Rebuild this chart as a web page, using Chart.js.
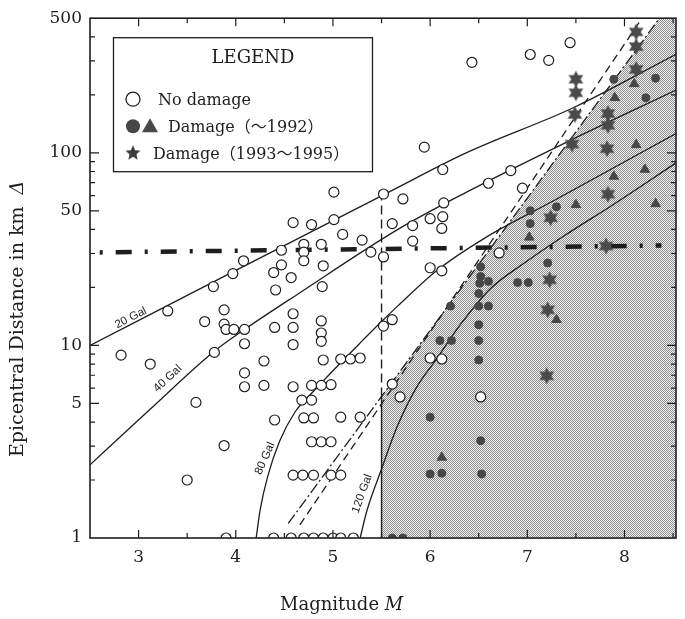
<!DOCTYPE html>
<html><head><meta charset="utf-8">
<script src="https://cdn.jsdelivr.net/npm/chart.js@4.4.1/dist/chart.umd.min.js"></script>
<style>html,body{margin:0;padding:0;background:#fff}#wrap{position:relative;width:685px;height:619px}</style>
</head><body><div id="wrap"><canvas id="c" width="685" height="619"></canvas></div>
<script>
// ---------------- DATA ----------------
const magnitudeTicks = [3, 4, 5, 6, 7, 8];
const distanceTicks = [1, 5, 10, 50, 100, 500];

// [Magnitude M, epicentral distance km]
const noDamage = [
 [2.82,8.9],[3.12,8.0],[3.30,15.1],[3.68,13.3],[3.88,15.3],[3.88,12.9],[3.90,12.1],[3.98,12.1],
 [3.78,9.2],[3.59,5.06],[3.88,3.02],[3.50,2.0],[3.90,1],[3.77,20.2],[3.97,23.6],[4.08,27.5],
 [4.09,12.1],[4.09,10.2],[4.09,7.2],[4.09,6.1],[4.29,6.2],[4.29,8.3],[4.40,4.1],[4.40,12.4],
 [4.41,19.4],[4.47,31.2],[4.47,26.2],[4.39,23.9],[4.57,22.5],[4.59,14.6],[4.59,12.4],[4.59,10.1],
 [4.59,43.4],[4.78,42.4],[5.01,45.0],[5.01,62.5],[5.10,37.7],[5.30,35.2],[5.39,30.5],[5.52,61.1],
 [5.52,28.8],[4.70,33.5],[4.70,30.5],[4.70,27.5],[4.88,33.5],[4.90,25.9],[4.89,20.2],[4.88,13.4],
 [4.88,11.6],[4.88,10.5],[4.90,8.4],[5.08,8.5],[5.18,8.5],[5.28,8.6],[5.52,12.6],[5.61,13.6],
 [4.98,6.25],[4.59,6.1],[4.78,6.2],[4.88,6.2],[5.61,6.3],[4.68,5.2],[4.78,5.2],[4.70,4.2],
 [4.80,4.2],[5.08,4.24],[5.28,4.24],[4.78,3.16],[4.88,3.16],[4.98,3.16],[4.59,2.12],[4.69,2.12],
 [4.80,2.12],[4.98,2.12],[5.08,2.12],[4.39,1],[4.57,1],[4.70,1],[4.80,1],[4.90,1],[5.00,1],
 [5.08,1],[5.21,1],[5.69,5.4],[6.52,5.4],[6.00,8.6],[6.12,8.5],[6.00,25.3],[6.12,24.4],
 [5.82,34.8],[6.71,30.2],[5.72,57.6],[5.61,42.9],[5.82,41.9],[6.00,45.5],[6.13,46.6],[6.12,40.5],
 [6.14,54.9],[5.94,107],[6.13,81.9],[6.60,69.5],[6.83,80.9],[6.95,65.5],[6.43,295],[7.03,324],
 [7.22,302],[7.44,373]
];
const damageCircle = [
 [6.52,25.6],[6.52,22.8],[6.51,21.0],[6.60,21.5],[6.90,21.2],[7.01,21.2],[7.21,26.8],[6.21,16.0],
 [6.50,18.6],[6.50,16.0],[6.60,16.0],[6.50,12.8],[6.10,10.6],[6.22,10.6],[6.50,10.6],[6.50,8.4],
 [6.00,4.24],[6.52,3.2],[6.00,2.15],[6.12,2.17],[6.53,2.15],[5.61,1],[5.72,1],[7.03,50],
 [7.30,52.4],[7.03,42.9],[7.89,241],[8.22,193],[8.32,244]
];
const damageTriangle = [
 [6.12,2.62],[7.30,13.6],[7.02,36.4],[7.50,53.7],[8.32,54.3],[7.89,75.4],[8.21,81.9],[8.12,110],
 [7.90,193],[8.10,228]
];
const damageStar = [
 [8.12,424],[8.12,356],[8.12,271],[7.50,241],[7.50,205],[7.49,158],[7.83,160],[7.83,139],
 [7.46,111],[7.82,105],[7.83,61],[7.24,46],[7.81,32.8],[7.23,21.9],[7.21,15.3],[7.20,6.95]
];

// attenuation curves (Gal)
const gal20 = [[2.5,10.0],[3.93,23.5],[5.55,61.6],[6.37,99.9],[7.49,173],[8.53,325]];
const gal40 = [[2.5,2.40],[3.11,4.62],[3.77,9.25],[4.09,12.1],[4.64,18.5],[5.66,39.8],[6.37,62.3],[7.38,112],[8.53,212]];
const gal80 = [[4.21,1],[4.25,1.39],[4.33,2.10],[4.45,3.17],[4.61,4.51],[4.81,5.85],[5.01,7.48],[5.28,10.3],[5.50,13.3],[5.66,15.9],[6.06,24.3],[6.57,36.3],[7.28,56.7],[8.53,126]];
const gal120 = [[5.28,1],[5.35,1.39],[5.50,2.28],[5.66,3.78],[5.86,6.06],[6.06,8.42],[6.32,13.0],[6.62,19.7],[6.98,27.0],[7.38,37.1],[7.89,54.1],[8.53,88.7]];

// boundary lines
const limitDashDot = [[4.54,1.19],[8.36,500]];
const limitDashed = [[4.66,1.17],[8.18,500]];
const threshold = [[2.60,30.4],[8.38,33.0]];
const magnitudeLimit = 5.5;
const magnitudeLimitTop = 65;

// ---------------- HELPERS ----------------
function logInterp(line, m){
  const [a,b] = line;
  const t = (m-a[0])/(b[0]-a[0]);
  return Math.pow(10, Math.log10(a[1]) + t*(Math.log10(b[1])-Math.log10(a[1])));
}
const pts = arr => arr.map(([x,y]) => ({x, y}));
const xMin = 2.5, xMax = 8.53, yMin = 1, yMax = 500;
const limitAt55 = logInterp(limitDashDot, magnitudeLimit);
const shadeBoundary = [[magnitudeLimit, limitAt55], limitDashDot[1], [xMax, yMax]];

const canvas = document.getElementById('c');
const mainCtx = canvas.getContext('2d');
function makePattern(){
  const pc = document.createElement('canvas'); pc.width = 2; pc.height = 2;
  const g = pc.getContext('2d');
  g.fillStyle = '#f2f2f2'; g.fillRect(0,0,2,2);
  g.fillStyle = '#8e8e8e'; g.fillRect(0,0,1,1); g.fillRect(1,1,1,1);
  return mainCtx.createPattern(pc, 'repeat');
}
function makeStar(outer, inner, n, color){
  const s = Math.ceil(outer*2 + 2);
  const c = document.createElement('canvas'); c.width = s; c.height = s;
  const g = c.getContext('2d'); g.fillStyle = color; g.beginPath();
  for (let i = 0; i < 2*n; i++){
    const r = i % 2 ? inner : outer;
    const a = -Math.PI/2 + i*Math.PI/n;
    g.lineTo(s/2 + r*Math.cos(a), s/2 + r*Math.sin(a));
  }
  g.closePath(); g.fill(); return c;
}
const INK = '#1e1e1e', DARK = '#474747';
const starImg = makeStar(8.5, 4.6, 6, '#4a4a4a');
const legendStar = makeStar(8, 3.6, 5, '#3a3a3a');
const serif = '"DejaVu Serif", "Noto Sans CJK JP", serif';

function lineDs(arr, opts){
  return Object.assign({type:'line', data: pts(arr), borderColor: INK, borderWidth: 1.3,
    pointRadius: 0, fill: false, showLine: true, order: 3}, opts);
}

// ---------------- PLUGINS ----------------
const framePlugin = {
  id: 'frame',
  afterDatasetsDraw(chart){
    const {ctx, chartArea: a, scales: {x, y}} = chart;
    ctx.save();
    ctx.strokeStyle = INK; ctx.lineWidth = 1.2;
    ctx.beginPath();
    x.ticks.forEach(t => {
      const px = x.getPixelForValue(t.value);
      const L = Number.isInteger(t.value) ? 8 : 5;
      ctx.moveTo(px, a.bottom); ctx.lineTo(px, a.bottom - L);
      ctx.moveTo(px, a.top); ctx.lineTo(px, a.top + L);
    });
    y.ticks.forEach(t => {
      const py = y.getPixelForValue(t.value);
      if (py < a.top + 1 || py > a.bottom - 1) return;
      const L = distanceTicks.includes(t.value) ? 9 : 5;
      ctx.moveTo(a.left, py); ctx.lineTo(a.left + L, py);
      ctx.moveTo(a.right, py); ctx.lineTo(a.right - L, py);
    });
    ctx.stroke();
    ctx.lineWidth = 1.6;
    ctx.strokeRect(a.left, a.top, a.right - a.left, a.bottom - a.top);
    // curve labels
    const labels = [
      {t:'20 Gal', m:2.92, d:13.9, ang:-27},
      {t:'40 Gal', m:3.30, d:6.73, ang:-43},
      {t:'80 Gal', m:4.30, d:2.59, ang:-66},
      {t:'120 Gal', m:5.30, d:1.70, ang:-70}
    ];
    ctx.fillStyle = INK;
    ctx.font = '11.5px "Liberation Sans", Arial, sans-serif';
    ctx.textAlign = 'center'; ctx.textBaseline = 'middle';
    labels.forEach(l => {
      ctx.save();
      ctx.translate(x.getPixelForValue(l.m), y.getPixelForValue(l.d));
      ctx.rotate(l.ang*Math.PI/180);
      ctx.fillText(l.t, 0, 0);
      ctx.restore();
    });
    ctx.restore();
  },
  afterDraw(chart){
    const {ctx, chartArea: a} = chart;
    ctx.save();
    // legend box
    const bx = a.left + 23, by = a.top + 19, bw = 259, bh = 134;
    ctx.fillStyle = '#fff'; ctx.fillRect(bx, by, bw, bh);
    ctx.strokeStyle = INK; ctx.lineWidth = 1.3; ctx.strokeRect(bx + 0.5, by + 0.5, bw, bh);
    ctx.fillStyle = INK; ctx.textBaseline = 'alphabetic';
    ctx.font = '18px ' + serif; ctx.textAlign = 'center';
    ctx.fillText('LEGEND', bx + 140, by + 26);
    ctx.textAlign = 'left'; ctx.font = '16px ' + serif;
    // row 1
    ctx.beginPath(); ctx.arc(bx + 20, by + 62, 7, 0, 2*Math.PI);
    ctx.lineWidth = 1.3; ctx.stroke();
    ctx.fillText('No damage', bx + 45, by + 68);
    // row 2
    ctx.fillStyle = DARK;
    ctx.beginPath(); ctx.arc(bx + 20, by + 89, 7, 0, 2*Math.PI); ctx.fill();
    ctx.beginPath(); ctx.moveTo(bx + 37, by + 81); ctx.lineTo(bx + 45, by + 95); ctx.lineTo(bx + 29, by + 95); ctx.closePath(); ctx.fill();
    ctx.fillStyle = INK;
    ctx.fillText('Damage（～1992）', bx + 55, by + 95);
    // row 3
    ctx.drawImage(legendStar, bx + 20 - legendStar.width/2, by + 116 - legendStar.height/2);
    ctx.fillText('Damage（1993～1995）', bx + 40, by + 122);
    // axis titles
    ctx.font = '18px ' + serif;
    const x0 = 280, yb = 610;
    ctx.fillText('Magnitude ', x0, yb);
    const w1 = ctx.measureText('Magnitude ').width;
    ctx.font = 'italic 18px ' + serif;
    ctx.fillText('M', x0 + w1, yb);
    ctx.save();
    ctx.translate(18, 457); ctx.rotate(-Math.PI/2);
    ctx.textBaseline = 'middle';
    ctx.font = '19px ' + serif;
    const s1 = 'Epicentral Distance in km  ';
    ctx.fillText(s1, 0, 0);
    const w2 = ctx.measureText(s1).width;
    ctx.font = 'italic 19px ' + serif;
    ctx.fillText('Δ', w2, 0);
    ctx.restore();
    ctx.restore();
  }
};

// ---------------- CHART ----------------
const datasets = [
  {label:'No damage', data: pts(noDamage), showLine:false, pointStyle:'circle', pointRadius:5,
   pointBackgroundColor:'#fff', pointBorderColor:INK, pointBorderWidth:1.2, order:1},
  {label:'Damage (~1992) circle', data: pts(damageCircle), showLine:false, pointStyle:'circle', pointRadius:4,
   pointBackgroundColor:DARK, pointBorderColor:DARK, pointBorderWidth:1, order:1},
  {label:'Damage (~1992) triangle', data: pts(damageTriangle), showLine:false, pointStyle:'triangle', pointRadius:5.5,
   pointBackgroundColor:DARK, pointBorderColor:DARK, pointBorderWidth:1, order:1},
  {label:'Damage (1993~1995)', data: pts(damageStar), showLine:false, pointStyle:starImg, pointRadius:8, order:1},
  lineDs(gal20, {label:'20 Gal', cubicInterpolationMode:'monotone'}),
  lineDs(gal40, {label:'40 Gal', cubicInterpolationMode:'monotone'}),
  lineDs(gal80, {label:'80 Gal', cubicInterpolationMode:'monotone'}),
  lineDs(gal120, {label:'120 Gal', cubicInterpolationMode:'monotone'}),
  lineDs(limitDashDot, {label:'limit dash-dot', borderDash:[11,3,2,3]}),
  lineDs(limitDashed, {label:'limit dashed', borderDash:[8,5]}),
  lineDs(threshold, {label:'threshold', borderWidth:4.5, borderDash:[16,13,3,13], borderDashOffset:29}),
  lineDs([[magnitudeLimit, limitAt55],[magnitudeLimit, magnitudeLimitTop]], {label:'M5.5 dashed', borderDash:[9,5], borderWidth:1.4}),
  lineDs([[magnitudeLimit, yMin],[magnitudeLimit, limitAt55]], {label:'M5.5 edge', borderWidth:1.4}),
  {type:'line', label:'shaded', data: pts(shadeBoundary), fill:'start', backgroundColor: makePattern(),
   borderWidth:0, borderColor:'rgba(0,0,0,0)', pointRadius:0, order:10}
];

new Chart(canvas, {
  type: 'line',
  data: { datasets },
  options: {
    responsive: false, animation: false, devicePixelRatio: 1,
    layout: { padding: { top: 10, right: 2, left: 0, bottom: 0 } },
    plugins: { legend: { display: false }, tooltip: { enabled: false } },
    scales: {
      x: {
        type: 'linear', min: xMin, max: xMax,
        grid: { display: false, drawTicks: false }, border: { display: false },
        afterBuildTicks: s => { const t = []; for (let v = 6; v <= 17; v++) t.push({ value: v/2 }); s.ticks = t; },
        ticks: { autoSkip: false, maxRotation: 0, padding: 9, color: INK,
          font: { family: serif, size: 17 },
          callback: v => magnitudeTicks.includes(v) ? String(v) : '' },
        afterFit: s => { s.height = 81; }
      },
      y: {
        type: 'logarithmic', min: yMin, max: yMax,
        grid: { display: false, drawTicks: false }, border: { display: false },
        afterBuildTicks: s => { const t = []; [1,10,100].forEach(p => { for (let k = 1; k <= 9; k++) { const v = k*p; if (v <= yMax) t.push({ value: v }); } }); s.ticks = t; },
        ticks: { autoSkip: false, padding: 8, color: INK,
          font: { family: serif, size: 17 },
          callback: v => distanceTicks.includes(v) ? String(v) : '' },
        afterFit: s => { s.width = 90; }
      }
    }
  },
  plugins: [framePlugin]
});
</script></body></html>
